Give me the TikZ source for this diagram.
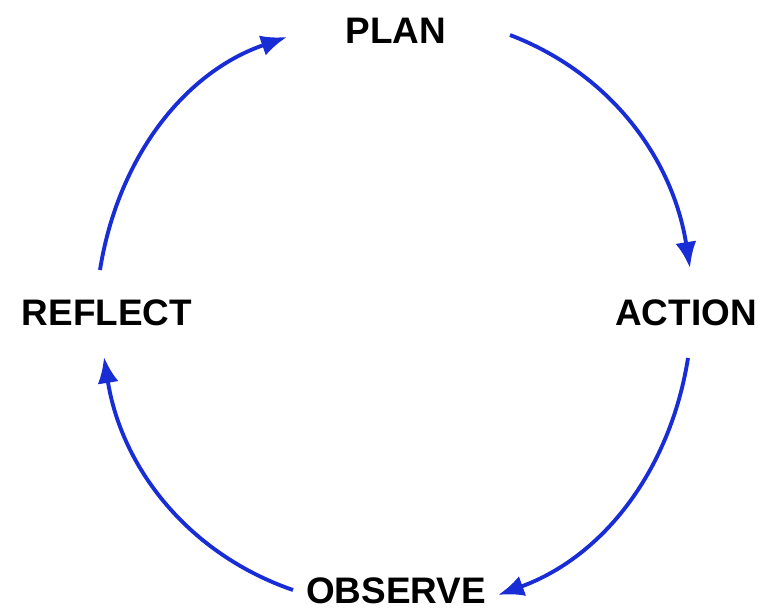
\documentclass[tikz,border=0pt]{standalone}
\usepackage{fontspec}
\setmainfont{Liberation Sans}
\usepackage{tikz}
\usetikzlibrary{arrows.meta}
\usepackage{xcolor}
\definecolor{cycleblue}{RGB}{25,45,215}

\begin{document}
\begin{tikzpicture}[
    stage/.style={font=\fontsize{21}{25}\selectfont\bfseries, inner sep=0pt},
    cyclearrow/.style={draw=cycleblue, line width=2.2pt, -{Latex[length=5.2mm,width=4.2mm]}, looseness=0.95}
  ]
    \useasboundingbox (0,0) rectangle (15.28,12.18);
    \node[stage] (plan) at (7.92,11.56) {PLAN};
    \node[stage] (action) at (13.72,5.92) {ACTION};
    \node[stage] (observe) at (7.92,0.36) {OBSERVE};
    \node[stage] (reflect) at (2.14,5.92) {REFLECT};
    \draw[cyclearrow] ([shift={(2.28,-0.08)}]plan.center) to[out=-21,in=99] ([shift={(0.08,0.90)}]action.center);
    \draw[cyclearrow] ([shift={(0.04,-0.90)}]action.center) to[out=-99,in=20] ([shift={(2.04,-0.08)}]observe.center);
    \draw[cyclearrow] ([shift={(-2.06,0.02)}]observe.center) to[out=161,in=-81] ([shift={(-0.06,-0.88)}]reflect.center);
    \draw[cyclearrow] ([shift={(-0.14,0.86)}]reflect.center) to[out=81,in=199] ([shift={(-2.18,-0.12)}]plan.center);
\end{tikzpicture}
\end{document}
